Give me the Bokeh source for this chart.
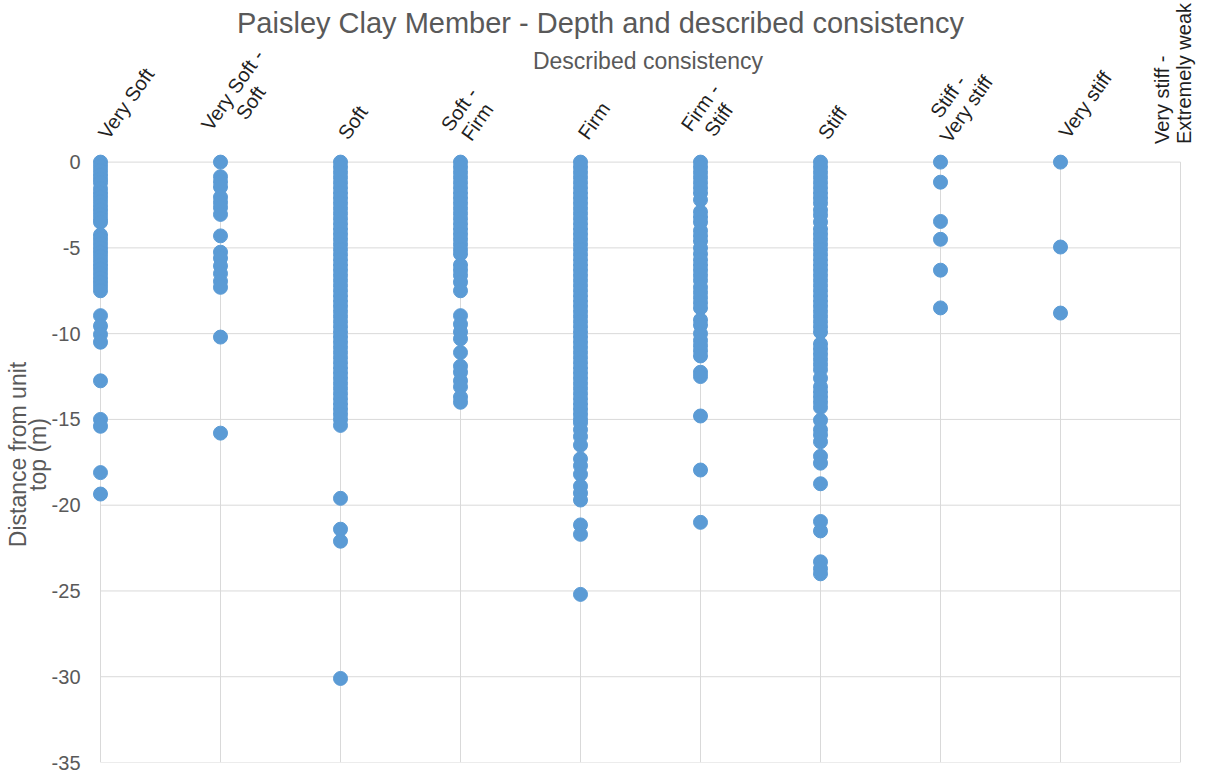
import math
from bokeh.plotting import figure
from bokeh.layouts import column
from bokeh.models import Range1d, FixedTicker, ColumnDataSource
from bokeh.core.properties import value
from bokeh.embed import file_html
from bokeh.resources import INLINE

# ---------------- data ----------------
categories = ["Very Soft", "Very Soft -\nSoft", "Soft", "Soft -\nFirm", "Firm",
              "Firm -\nStiff", "Stiff", "Stiff -\nVery stiff", "Very stiff",
              "Very stiff -\nExtremely weak"]

very_soft = [0, -0.25, -0.5, -0.75, -1.0, -1.2,
             -1.55, -1.8, -2.05, -2.3, -2.55, -2.8, -3.05, -3.3, -3.5,
             -4.25, -4.5, -4.75, -5.0, -5.25, -5.5, -5.75, -6.0, -6.25, -6.5,
             -6.75, -7.0, -7.25, -7.5,
             -8.95, -9.55, -10.05, -10.5, -12.75, -15.0, -15.4, -18.1, -19.35]

very_soft_soft = [0, -0.85, -1.15, -1.45, -2.05, -2.35, -2.65, -3.05, -4.3,
                  -5.25, -5.6, -6.05, -6.5, -6.95, -7.3, -10.2, -15.8]

soft = [0, -0.3, -0.6, -0.9, -1.2, -1.5, -1.8, -2.1, -2.4, -2.7, -3.0, -3.3,
        -3.6, -3.9, -4.2, -4.5, -4.8, -5.1, -5.4, -5.7, -6.0, -6.3, -6.6, -6.9,
        -7.2, -7.5, -7.8, -8.1, -8.4, -8.7, -9.0, -9.3, -9.6, -9.9, -10.2,
        -10.5, -10.8, -11.1, -11.4, -11.7, -12.0, -12.3, -12.6, -12.9, -13.2,
        -13.5, -13.8, -14.1, -14.4, -14.7, -15.0, -15.35,
        -19.6, -21.4, -22.1, -30.1]

soft_firm = [0, -0.3, -0.6, -0.9, -1.2, -1.5, -1.8, -2.1, -2.4, -2.7, -3.0,
             -3.3, -3.6, -3.9, -4.2, -4.5, -4.8, -5.1, -5.35,
             -6.0, -6.3, -6.6, -7.0, -7.5,
             -8.95, -9.45, -9.9, -10.3, -11.1, -11.9, -12.25, -12.75, -13.1,
             -13.7, -14.0]

firm = [0, -0.3, -0.6, -0.9, -1.2, -1.5, -1.8, -2.1, -2.4, -2.7, -3.0, -3.3,
        -3.6, -3.9, -4.2, -4.5, -4.8, -5.1, -5.4, -5.7, -6.0, -6.3, -6.6, -6.9,
        -7.2, -7.5, -7.8, -8.1, -8.4, -8.7, -9.0, -9.3, -9.6, -9.9, -10.2,
        -10.5, -10.8, -11.1, -11.4, -11.7, -12.0, -12.3, -12.6, -12.9, -13.2,
        -13.5, -13.8, -14.1, -14.4, -14.7, -15.0, -15.2,
        -15.6, -16.0, -16.5, -17.3, -17.7, -18.2, -18.9, -19.3, -19.7,
        -21.15, -21.7, -25.2]

firm_stiff = [0, -0.3, -0.6, -0.9, -1.2, -1.5, -1.8, -2.2,
              -2.9, -3.2, -3.5,
              -4.0, -4.3, -4.6, -5.0, -5.35,
              -5.7, -6.0, -6.3, -6.6, -6.9,
              -7.3, -7.6, -7.9, -8.2, -8.5,
              -9.2, -9.5, -10.0, -10.4, -10.7, -11.0, -11.3,
              -12.25, -12.5, -14.8, -17.95, -21.0]

stiff = [0, -0.3, -0.6, -0.9, -1.2, -1.5, -1.8, -2.1, -2.4,
         -2.8, -3.1, -3.5,
         -3.9, -4.2, -4.5, -4.8, -5.1, -5.4, -5.7, -6.0, -6.3, -6.6, -6.9,
         -7.2, -7.5, -7.8, -8.1, -8.4, -8.7, -9.0, -9.3, -9.6, -9.9,
         -10.6, -10.9, -11.2, -11.5, -11.8, -12.1, -12.6,
         -13.1, -13.4, -13.7, -14.0, -14.3, -15.05,
         -15.6, -15.9, -16.3, -17.15, -17.55, -18.75,
         -20.95, -21.5, -23.3, -23.7, -24.0]

stiff_very_stiff = [0, -1.17, -3.46, -4.5, -6.3, -8.5]

very_stiff = [0, -4.95, -8.8]

very_stiff_extremely_weak = []

series = [very_soft, very_soft_soft, soft, soft_firm, firm, firm_stiff,
          stiff, stiff_very_stiff, very_stiff, very_stiff_extremely_weak]

y_ticks = [0, -5, -10, -15, -20, -25, -30, -35]

title_text = "Paisley Clay Member - Depth and described consistency"
x_title_text = "Described consistency"
y_title_text = "Distance from unit\ntop (m)"

# ---------------- style / layout ----------------
FONT = "Liberation Sans"
GREY = "#595959"
GRID = "#d9d9d9"
LABEL_COLOR = "#1f1f1f"
CAT_FS = 20          # px
ANGLE = math.radians(55)

W = 1209
TOP_H = 146          # header strip (title, axis title, category labels)
BOT_H = 774 - TOP_H  # plot strip
LEFT = 92            # plot-area left border
RIGHT = 6            # plot-area right border
CAT_PITCH = 120.0    # px between categories
CAT1_X = 100.0       # px of first category
ZERO_Y = 161.6       # px of the depth-0 line on the page
BOTTOM_Y = 761.6     # px of the -35 line on the page

# approximate Arial / Liberation Sans advance widths (em) for label layout
_W = {" ": .278, "-": .333, "V": .667, "S": .667, "F": .611, "E": .667,
      "e": .556, "r": .333, "y": .5, "o": .556, "f": .278, "t": .278,
      "i": .222, "m": .833, "x": .5, "l": .222, "w": .722, "a": .556, "k": .5}


def text_width(s, fs):
    return sum(_W.get(ch, .55) for ch in s) * fs


def px_to_cat(px):
    return 1 + (px - CAT1_X) / CAT_PITCH


cat_ticks = list(range(1, len(categories) + 1))
x_range = Range1d(px_to_cat(LEFT), px_to_cat(W - RIGHT))

# ================= header figure =================
head = figure(width=W, height=TOP_H, output_backend="svg", toolbar_location=None,
              x_axis_location=None, y_axis_location=None,
              x_range=x_range,
              y_range=Range1d(TOP_H, 0),           # page-pixel rows, top = 0
              min_border_left=LEFT, min_border_right=RIGHT, min_border_top=0,
              min_border_bottom=0)
head.outline_line_color = None
head.background_fill_color = "white"
head.border_fill_color = "white"
for g in head.grid:
    g.visible = False

ux, uy = math.cos(ANGLE), -math.sin(ANGLE)      # text direction (screen, y down)
ANCHOR_Y = TOP_H - 1
lab_x, lab_y, lab_t, lab_ox, lab_oy = [], [], [], [], []
for t, c in zip(cat_ticks[:-1], categories[:-1]):
    lines = c.split("\n")
    L = max(text_width(s, CAT_FS) for s in lines)
    bx, by = (2, -25) if len(lines) == 1 else (-6, -27)
    lab_x.append(t)
    lab_y.append(ANCHOR_Y)
    lab_t.append(c)
    lab_ox.append(bx + ux * L / 2)
    lab_oy.append((ZERO_Y - ANCHOR_Y) + by + uy * L / 2)
head.text(x=lab_x, y=lab_y, text=lab_t, x_offset=lab_ox, y_offset=lab_oy,
          angle=ANGLE, text_align="center", text_baseline="middle",
          text_font=value(FONT), text_font_size=f"{CAT_FS}px",
          text_color=LABEL_COLOR, text_line_height=1.0)

# last category label, written vertically
head.text(x=[cat_ticks[-1]], y=[ANCHOR_Y], text=[categories[-1]],
          x_offset=-8, y_offset=(ZERO_Y - ANCHOR_Y) - 18, angle=math.pi / 2,
          text_align="left", text_baseline="middle",
          text_font=value(FONT), text_font_size=f"{CAT_FS}px",
          text_color=LABEL_COLOR, text_line_height=1.0)

head.text(x=[px_to_cat(647.5)], y=[60], text=[x_title_text], text_align="center",
          text_baseline="middle", text_font=value(FONT), text_font_size="23px",
          text_color=GREY)
head.text(x=[px_to_cat(600)], y=[22], text=[title_text], text_align="center",
          text_baseline="middle", text_font=value(FONT), text_font_size="29px",
          text_color=GREY)

# ================= plot figure =================
xs, ys = [], []
for i, vals in enumerate(series):
    for v in vals:
        xs.append(i + 1)
        ys.append(v)
src = ColumnDataSource(dict(x=xs, y=ys))

unit = (BOTTOM_Y - ZERO_Y) / 35.0                  # px per metre
y_top = (ZERO_Y - TOP_H) / unit
frame_h = (BOTTOM_Y - TOP_H)
bottom_border = int(round(BOT_H - frame_h))

p = figure(width=W, height=BOT_H, output_backend="svg", toolbar_location=None,
           x_axis_location=None,
           x_range=x_range,
           y_range=Range1d(-35, y_top),
           min_border_left=LEFT, min_border_right=RIGHT, min_border_top=0,
           min_border_bottom=bottom_border)
p.outline_line_color = None
p.background_fill_color = "white"
p.border_fill_color = "white"
for g in p.grid:
    g.visible = False

n = len(cat_ticks)
p.segment(x0=cat_ticks, y0=[max(y_ticks)] * n, x1=cat_ticks, y1=[min(y_ticks)] * n,
          line_color=GRID, line_width=1)
m = len(y_ticks)
p.segment(x0=[cat_ticks[0]] * m, y0=y_ticks, x1=[cat_ticks[-1]] * m, y1=y_ticks,
          line_color=GRID, line_width=1)

p.scatter("x", "y", source=src, size=14, color="#5b9bd5", line_color="#5b9bd5")

ya = p.yaxis[0]
ya.ticker = FixedTicker(ticks=y_ticks)
ya.major_label_overrides = {t: str(t) for t in y_ticks}
ya.major_label_text_font = FONT
ya.major_label_text_font_size = "20px"
ya.major_label_text_color = GREY
ya.major_label_standoff = 6
ya.axis_line_color = None
ya.major_tick_line_color = None
ya.minor_tick_line_color = None
ya.axis_label = y_title_text
ya.axis_label_text_font = FONT
ya.axis_label_text_font_size = "23px"
ya.axis_label_text_font_style = "normal"
ya.axis_label_text_color = GREY
ya.axis_label_text_line_height = 0.75
ya.axis_label_standoff = -2

layout = column(head, p, spacing=0)
open("out.html", "w").write(file_html(layout, INLINE))
